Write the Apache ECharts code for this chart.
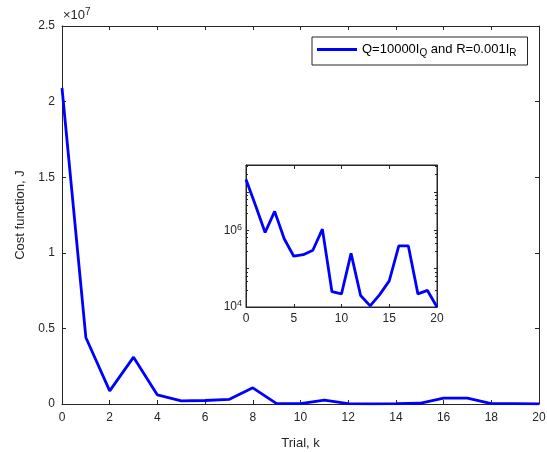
<!DOCTYPE html>
<html>
<head>
<meta charset="utf-8">
<script src="https://cdn.jsdelivr.net/npm/echarts@6/dist/echarts.min.js"></script>
<style>html,body{margin:0;padding:0;background:#fff}#c{width:547px;height:452px}</style>
</head>
<body>
<div id="c"></div>
<script>
const trials = [0,1,2,3,4,5,6,7,8,9,10,11,12,13,14,15,16,17,18,19,20];
const costJ = [2.09e7,4.4e6,8.7e5,3.1e6,6.0e5,2.1e5,2.3e5,3.0e5,1.07e6,2.5e4,2.2e4,2.5e5,2.0e4,1.07e4,2.1e4,4.8e4,3.9e5,3.9e5,2.2e4,2.7e4,1.0e4];
const mainYTicks = ['0','0.5','1','1.5','2','2.5'];
const seriesName = 'Q=10000I_Q and R=0.001I_R';

const pts = trials.map((k,i)=>[k,costJ[i]]);
const ax = '#262626';
const font = 'Liberation Sans, Arial, Helvetica, sans-serif';

const chart = echarts.init(document.getElementById('c'), null, {renderer:'canvas'});

function boxAxisX(gi, pos, interval, min, max){
  return {gridIndex:gi, type:'value', position:pos, min:min, max:max, interval:interval,
    axisLine:{show:true, onZero:false, lineStyle:{color:ax,width:1}},
    axisTick:{show:true, inside:true, length:4, lineStyle:{color:ax}},
    axisLabel:{show:false}, splitLine:{show:false}};
}

chart.setOption({
  animation:false,
  backgroundColor:'#fff',
  textStyle:{fontFamily:font},
  grid:[
    {left:62, right:8, top:26, bottom:48, outerBoundsMode:'none', containLabel:false},
    {left:246, right:110, top:165, bottom:145, outerBoundsMode:'none', containLabel:false, show:true, backgroundColor:'#fff', borderColor:ax, borderWidth:1, z:5}
  ],
  xAxis:[
    {gridIndex:0, type:'value', min:0, max:20, interval:2, name:'Trial, k', nameLocation:'middle', nameGap:33,
      nameTextStyle:{fontSize:13, color:ax, fontFamily:font},
      axisLine:{onZero:false, lineStyle:{color:ax}}, axisTick:{inside:true, length:4, lineStyle:{color:ax}},
      axisLabel:{fontSize:12, color:ax, margin:8, fontFamily:font}, splitLine:{show:false}},
    boxAxisX(0,'top',2,0,20),
    {gridIndex:1, type:'value', min:0, max:20, interval:5,
      axisLine:{onZero:false, lineStyle:{color:ax}}, axisTick:{inside:true, length:3, lineStyle:{color:ax}},
      axisLabel:{fontSize:12, color:ax, margin:6, fontFamily:font}, splitLine:{show:false}, z:6},
    Object.assign(boxAxisX(1,'top',5,0,20),{z:6})
  ],
  yAxis:[
    {gridIndex:0, type:'value', min:0, max:2.5e7, interval:5e6, name:'Cost function, J', nameLocation:'middle', nameGap:29,
      nameTextStyle:{fontSize:13, color:ax, fontFamily:font},
      axisLine:{show:true, onZero:false, lineStyle:{color:ax}}, axisTick:{show:true, inside:true, length:4, lineStyle:{color:ax}},
      axisLabel:{fontSize:12, color:ax, margin:7, fontFamily:font, formatter:(v,i)=>mainYTicks[Math.round(v/5e6)]},
      splitLine:{show:false}},
    {gridIndex:0, type:'value', position:'right', min:0, max:2.5e7, interval:5e6,
      axisLine:{show:true, onZero:false, lineStyle:{color:ax}}, axisTick:{show:true, inside:true, length:4, lineStyle:{color:ax}},
      axisLabel:{show:false}, splitLine:{show:false}},
    {gridIndex:1, type:'log', logBase:10, min:1e4, max:5e7,
      axisLine:{show:true, onZero:false, lineStyle:{color:ax}}, axisTick:{show:true, inside:true, length:3, lineStyle:{color:ax}},
      minorTick:{show:true, splitNumber:5, length:2, lineStyle:{color:ax}},
      axisLabel:{color:ax, margin:4, fontFamily:font,
        formatter:(v)=>{const e=Math.round(Math.log10(v)); return (e===4||e===6)?('{b|10}{s|'+e+'}'):'';},
        rich:{b:{fontSize:12,color:ax,fontFamily:font},s:{fontSize:9,color:ax,fontFamily:font,verticalAlign:'top',padding:[0,0,6,0]}}},
      splitLine:{show:false}, z:6},
    {gridIndex:1, type:'log', logBase:10, min:1e4, max:5e7, position:'right',
      axisLine:{show:true, onZero:false, lineStyle:{color:ax}}, axisTick:{show:true, inside:true, length:3, lineStyle:{color:ax}},
      minorTick:{show:true, splitNumber:5, length:2, lineStyle:{color:ax}},
      axisLabel:{show:false}, splitLine:{show:false}, z:6}
  ],
  legend:{
    show:true, left:312, top:37, orient:'horizontal',
    data:[{name:seriesName, icon:'rect'}],
    itemWidth:40, itemHeight:3, itemGap:5,
    padding:[6,11,7,5],
    borderColor:ax, borderWidth:1, backgroundColor:'#fff',
    formatter:()=>'{t|Q=10000I}{sub|Q}{t| and R=0.001I}{sub|R}',
    textStyle:{color:'#000', fontFamily:font, rich:{
      t:{fontSize:13,color:'#000',fontFamily:font,lineHeight:16},
      sub:{fontSize:10,color:'#000',fontFamily:font,verticalAlign:'bottom',padding:[7,0,0,0]}}}
  },
  graphic:[{type:'text', left:63, top:7, style:{
    text:'{a|×10}{b|7}', font:'13px '+font, fill:ax,
    rich:{a:{fontSize:13,fill:ax,fontFamily:font},b:{fontSize:10,fill:ax,fontFamily:font,verticalAlign:'top',padding:[0,0,6,0]}}}}],
  series:[
    {name:seriesName, type:'line', xAxisIndex:0, yAxisIndex:0, data:pts, showSymbol:false, symbol:'none',
      lineStyle:{color:'#0000ff', width:2.8}, itemStyle:{color:'#0000ff'}, z:3},
    {name:'inset', type:'line', xAxisIndex:2, yAxisIndex:2, data:pts, showSymbol:false, symbol:'none',
      lineStyle:{color:'#0000ff', width:2.8}, itemStyle:{color:'#0000ff'}, z:7}
  ]
});
</script>
</body>
</html>
